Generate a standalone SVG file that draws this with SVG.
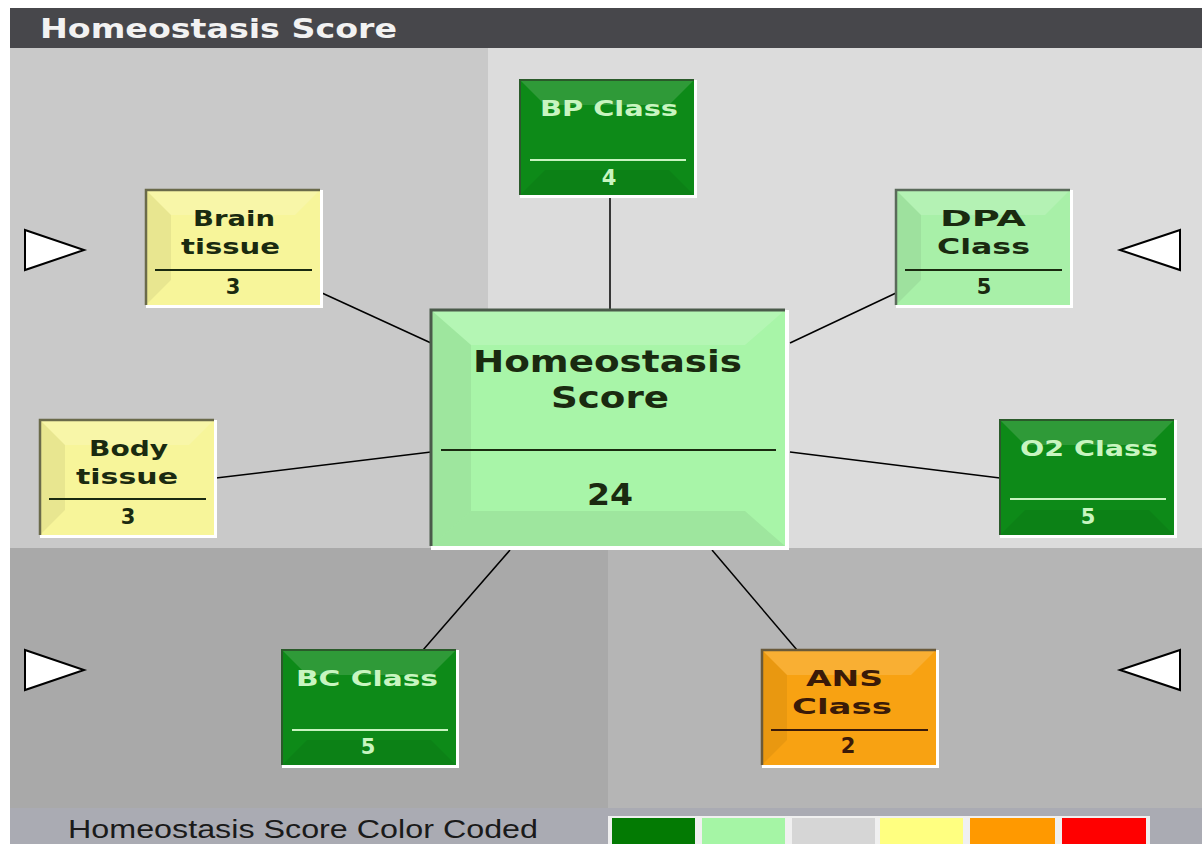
<svg xmlns="http://www.w3.org/2000/svg" width="1202" height="844" viewBox="0 0 1202 844">
<style>
.t{font-family:"DejaVu Sans","Verdana",sans-serif;font-weight:bold}
.n{text-anchor:middle}
.dk{fill:#1a2a10}
.lt{fill:#c8f5c0}
.sm{font-size:21px}
.tri{fill:#fff;stroke:#000;stroke-width:2}
.hl{fill:#fff;opacity:0.14}
.sh{fill:#000;opacity:0.06}
</style>
<rect x="0" y="0" width="1202" height="844" fill="#fff"/>
<rect x="10" y="8" width="1192" height="40" fill="#47474b"/>
<text class="t" x="40" y="38" font-size="26" fill="#f2f2f2" textLength="357" lengthAdjust="spacingAndGlyphs">Homeostasis Score</text>
<rect x="10" y="48" width="478" height="500" fill="#c9c9c9"/>
<rect x="488" y="48" width="714" height="500" fill="#dcdcdc"/>
<rect x="10" y="548" width="598" height="260" fill="#a9a9a9"/>
<rect x="608" y="548" width="594" height="260" fill="#b5b5b5"/>
<rect x="10" y="808" width="1192" height="36" fill="#aaabb3"/>

<polygon class="tri" points="25,230 84,250 25,270"/>
<polygon class="tri" points="1180,230 1120,250 1180,270"/>
<polygon class="tri" points="25,650 84,670 25,690"/>
<polygon class="tri" points="1180,650 1120,670 1180,690"/>

<g id="connectors" stroke="#000" stroke-width="1.5">
<line x1="610" y1="196" x2="610" y2="310"/>
<line x1="322" y1="293" x2="431" y2="343"/>
<line x1="896" y1="293" x2="790" y2="343"/>
<line x1="216" y1="478" x2="431" y2="452"/>
<line x1="1000" y1="478" x2="790" y2="452"/>
<line x1="423" y1="650" x2="510" y2="550"/>
<line x1="797" y1="650" x2="712" y2="550"/>
</g>

<g id="center">
<rect x="431" y="310" width="358" height="240" fill="#fff"/>
<rect x="431" y="310" width="354" height="236" fill="#a8f5a8"/>
<polygon class="hl" points="431,310 785,310 745,345 471,345"/>
<polygon class="sh" points="431,310 471,345 471,511 431,546"/>
<polygon class="sh" points="431,546 471,511 745,511 785,546"/>
<polyline points="431,546 431,310 785,310" stroke="#4a5a4a" stroke-width="3" fill="none"/>
<text class="t dk" x="473" y="372" font-size="30" textLength="269" lengthAdjust="spacingAndGlyphs">Homeostasis</text>
<text class="t dk" x="551" y="408" font-size="30" textLength="118" lengthAdjust="spacingAndGlyphs">Score</text>
<line x1="441" y1="450" x2="776" y2="450" stroke="#1a2a10" stroke-width="2"/>
<text class="t dk" x="587" y="505" font-size="30" textLength="46" lengthAdjust="spacingAndGlyphs">24</text>
</g>

<g id="bp">
<rect x="520" y="80" width="177" height="118" fill="#fff"/>
<rect x="520" y="80" width="174" height="115" fill="#0d8a18"/>
<polygon class="hl" points="520,80 694,80 669,105 545,105"/>
<polygon class="sh" points="520,195 545,170 669,170 694,195"/>
<polyline points="520,195 520,80 694,80" stroke="#2a5a2a" stroke-width="2" fill="none"/>
<text class="t lt sm" x="540" y="116" textLength="138" lengthAdjust="spacingAndGlyphs">BP Class</text>
<line x1="530" y1="160" x2="686" y2="160" stroke="#c8f5c0" stroke-width="2"/>
<text class="t lt sm n" x="609" y="185">4</text>
</g>

<g id="brain">
<rect x="146" y="190" width="177" height="118" fill="#fff"/>
<rect x="146" y="190" width="174" height="115" fill="#f7f59a"/>
<polygon class="hl" points="146,190 320,190 295,215 171,215"/>
<polygon class="sh" points="146,190 171,215 171,280 146,305"/>
<polyline points="146,305 146,190 320,190" stroke="#6a6a4a" stroke-width="2.5" fill="none"/>
<text class="t dk sm" x="193" y="226" textLength="82" lengthAdjust="spacingAndGlyphs">Brain</text>
<text class="t dk sm" x="181" y="254" textLength="99" lengthAdjust="spacingAndGlyphs">tissue</text>
<line x1="155" y1="270" x2="312" y2="270" stroke="#1a2a10" stroke-width="2"/>
<text class="t dk sm n" x="233" y="294">3</text>
</g>

<g id="dpa">
<rect x="896" y="190" width="177" height="118" fill="#fff"/>
<rect x="896" y="190" width="174" height="115" fill="#a8f0a8"/>
<polygon class="hl" points="896,190 1070,190 1045,215 921,215"/>
<polygon class="sh" points="896,190 921,215 921,280 896,305"/>
<polyline points="896,305 896,190 1070,190" stroke="#5a6a5a" stroke-width="2.5" fill="none"/>
<text class="t dk sm" x="940" y="226" textLength="86" lengthAdjust="spacingAndGlyphs">DPA</text>
<text class="t dk sm" x="937" y="254" textLength="93" lengthAdjust="spacingAndGlyphs">Class</text>
<line x1="905" y1="270" x2="1062" y2="270" stroke="#1a2a10" stroke-width="2"/>
<text class="t dk sm n" x="984" y="294">5</text>
</g>

<g id="body">
<rect x="40" y="420" width="177" height="118" fill="#fff"/>
<rect x="40" y="420" width="174" height="115" fill="#f7f59a"/>
<polygon class="hl" points="40,420 214,420 189,445 65,445"/>
<polygon class="sh" points="40,420 65,445 65,510 40,535"/>
<polyline points="40,535 40,420 214,420" stroke="#6a6a4a" stroke-width="2.5" fill="none"/>
<text class="t dk sm" x="89" y="456" textLength="79" lengthAdjust="spacingAndGlyphs">Body</text>
<text class="t dk sm" x="76" y="484" textLength="102" lengthAdjust="spacingAndGlyphs">tissue</text>
<line x1="49" y1="499" x2="206" y2="499" stroke="#1a2a10" stroke-width="2"/>
<text class="t dk sm n" x="128" y="524">3</text>
</g>

<g id="o2">
<rect x="1000" y="420" width="177" height="118" fill="#fff"/>
<rect x="1000" y="420" width="174" height="115" fill="#0d8a18"/>
<polygon class="hl" points="1000,420 1174,420 1149,445 1025,445"/>
<polygon class="sh" points="1000,535 1025,510 1149,510 1174,535"/>
<polyline points="1000,535 1000,420 1174,420" stroke="#2a5a2a" stroke-width="2" fill="none"/>
<text class="t lt sm" x="1020" y="456" textLength="138" lengthAdjust="spacingAndGlyphs">O2 Class</text>
<line x1="1010" y1="499" x2="1166" y2="499" stroke="#c8f5c0" stroke-width="2"/>
<text class="t lt sm n" x="1088" y="524">5</text>
</g>

<g id="bc">
<rect x="282" y="650" width="177" height="118" fill="#fff"/>
<rect x="282" y="650" width="174" height="115" fill="#0d8a18"/>
<polygon class="hl" points="282,650 456,650 431,675 307,675"/>
<polygon class="sh" points="282,765 307,740 431,740 456,765"/>
<polyline points="282,765 282,650 456,650" stroke="#2a5a2a" stroke-width="2" fill="none"/>
<text class="t lt sm" x="296" y="686" textLength="142" lengthAdjust="spacingAndGlyphs">BC Class</text>
<line x1="292" y1="730" x2="448" y2="730" stroke="#c8f5c0" stroke-width="2"/>
<text class="t lt sm n" x="368" y="754">5</text>
</g>

<g id="ans">
<rect x="762" y="650" width="177" height="118" fill="#fff"/>
<rect x="762" y="650" width="174" height="115" fill="#f8a212"/>
<polygon class="hl" points="762,650 936,650 911,675 787,675"/>
<polygon class="sh" points="762,650 787,675 787,740 762,765"/>
<polyline points="762,765 762,650 936,650" stroke="#6a5a3a" stroke-width="2.5" fill="none"/>
<text class="t sm" fill="#3a1a08" x="806" y="686" textLength="77" lengthAdjust="spacingAndGlyphs">ANS</text>
<text class="t sm" fill="#3a1a08" x="792" y="714" textLength="100" lengthAdjust="spacingAndGlyphs">Class</text>
<line x1="771" y1="730" x2="928" y2="730" stroke="#3a1a08" stroke-width="2"/>
<text class="t sm n" fill="#3a1a08" x="848" y="753">2</text>
</g>

<g id="legend">
<text x="68" y="838" font-family="Liberation Sans,Arial,sans-serif" font-size="25" fill="#1a1a1a" textLength="470" lengthAdjust="spacingAndGlyphs">Homeostasis Score Color Coded</text>
<rect x="608" y="816" width="542" height="28" fill="#f0f0f0"/>
<rect x="612" y="818" width="83" height="26" fill="#037a03"/>
<rect x="702" y="818" width="83" height="26" fill="#a5f5a5"/>
<rect x="792" y="818" width="83" height="26" fill="#d6d6d6"/>
<rect x="880" y="818" width="83" height="26" fill="#ffff80"/>
<rect x="970" y="818" width="85" height="26" fill="#ff9900"/>
<rect x="1062" y="818" width="84" height="26" fill="#ff0000"/>
</g>
</svg>
